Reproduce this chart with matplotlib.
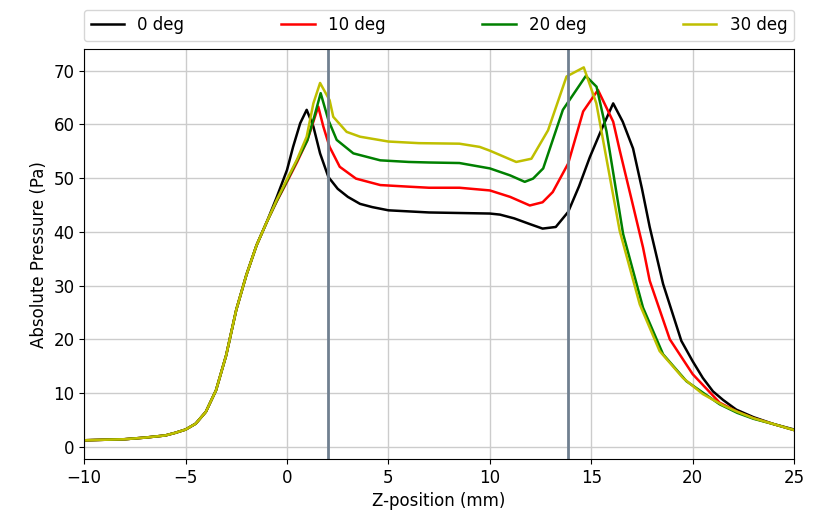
import matplotlib
matplotlib.use("Agg")
import matplotlib.pyplot as plt

# Shared rise (all angles nearly identical)
z_rise = [-10, -9, -8, -7, -6, -5.5, -5, -4.5, -4, -3.5, -3, -2.5, -2, -1.5, -1]
p_rise = [1.2, 1.3, 1.4, 1.7, 2.1, 2.6, 3.2, 4.3, 6.5, 10.5, 17, 25.5, 32, 37.5, 41.8]

z_0 = [-0.5, 0, 0.3, 0.65, 0.97, 1.3, 1.63, 2.04, 2.5, 3.0, 3.6, 4.2, 5, 6, 7, 8.5, 10, 10.5,
       11.2, 12, 12.6, 13.25, 13.86, 14.4, 14.93, 15.5, 16.08, 16.55, 17.06, 17.5, 17.88, 18.54,
       19.44, 20.0, 20.5, 21.0, 21.5, 22.15, 23, 24, 25]
p_0 = [46.5, 51.5, 55.8, 60.2, 62.7, 59.6, 54.6, 50.2, 48.0, 46.5, 45.2, 44.6, 44.0, 43.8, 43.6,
       43.5, 43.4, 43.2, 42.5, 41.4, 40.6, 40.9, 43.7, 48.5, 53.9, 59.0, 63.9, 60.5, 55.5, 48.0,
       40.9, 30.3, 19.7, 15.9, 12.8, 10.3, 8.7, 6.9, 5.5, 4.2, 3.2]

z_10 = [-0.5, 0, 0.5, 1.0, 1.3, 1.54, 1.79, 2.1, 2.6, 3.4, 4.6, 6, 7, 8.5, 10, 11, 11.97, 12.6,
        13.1, 13.86, 14.6, 15.33, 16.08, 16.4, 17.0, 17.55, 17.88, 18.87, 20.0, 21.33, 22.2, 23,
        24, 25]
p_10 = [45.7, 49.3, 53.0, 57.0, 60.5, 63.3, 59.6, 55.8, 52.1, 49.9, 48.7, 48.4, 48.2, 48.2,
        47.7, 46.5, 44.9, 45.5, 47.4, 52.7, 62.4, 66.4, 60.5, 55.2, 45.8, 37.1, 30.9, 20.0, 13.5,
        8.2, 6.5, 5.3, 4.2, 3.1]

z_20 = [-0.5, 0, 0.5, 1.0, 1.35, 1.66, 2.04, 2.45, 3.27, 4.6, 6, 7, 8.5, 10, 11, 11.72, 12.13,
        12.63, 13.6, 14.73, 15.26, 15.75, 16.57, 17.55, 18.54, 19.69, 21.33, 22.2, 23, 24, 25]
p_20 = [45.8, 49.5, 53.3, 57.0, 61.5, 65.8, 60.8, 57.1, 54.6, 53.3, 53.0, 52.9, 52.8, 51.8,
        50.5, 49.3, 49.9, 51.8, 62.7, 69.0, 67.0, 58.7, 39.6, 25.9, 17.2, 12.2, 7.9, 6.3, 5.2,
        4.2, 3.1]

z_30 = [-0.5, 0, 0.5, 0.97, 1.3, 1.63, 2.1, 2.28, 2.94, 3.6, 5, 6.5, 8.5, 9.5, 10, 11.3, 12.05,
        12.87, 13.78, 14.63, 15.25, 16.4, 17.39, 18.37, 19.52, 20.5, 21.5, 22.2, 23, 24, 25]
p_30 = [46.0, 49.8, 53.5, 57.7, 63.9, 67.7, 64.5, 61.4, 58.6, 57.7, 56.8, 56.5, 56.4, 55.8,
        55.1, 53.0, 53.6, 58.9, 68.9, 70.6, 63.9, 40.2, 26.5, 17.8, 12.8, 9.8, 7.7, 6.5, 5.3,
        4.2, 3.1]

labels = ["0 deg", "10 deg", "20 deg", "30 deg"]
colors = ["k", "r", "g", "y"]
vlines = [2.0, 13.85]

fig = plt.figure(figsize=(8.17, 5.17), dpi=100)
ax = fig.add_axes([0.103, 0.112, 0.869, 0.793])

series = [(z_0, p_0), (z_10, p_10), (z_20, p_20), (z_30, p_30)]
for (zz, pp), lab, c in zip(series, labels, colors):
    ax.plot(z_rise + zz, p_rise + pp, color=c, lw=1.8, label=lab)

for v in vlines:
    ax.axvline(v, color="slategray", lw=2)

ax.set_xlim(-10, 25)
ax.set_ylim(-2.3, 74)
ax.grid(True, color="#cccccc", lw=1)
ax.set_axisbelow(True)
ax.tick_params(labelsize=12)
ax.set_xlabel("Z-position (mm)", fontsize=12)
ax.set_ylabel("Absolute Pressure (Pa)", fontsize=12)
ax.legend(bbox_to_anchor=(0, 1.02, 1, 0.102), loc="lower left", ncol=4, mode="expand",
          borderaxespad=0, fontsize=12)

fig.savefig("out.png", dpi=100)
